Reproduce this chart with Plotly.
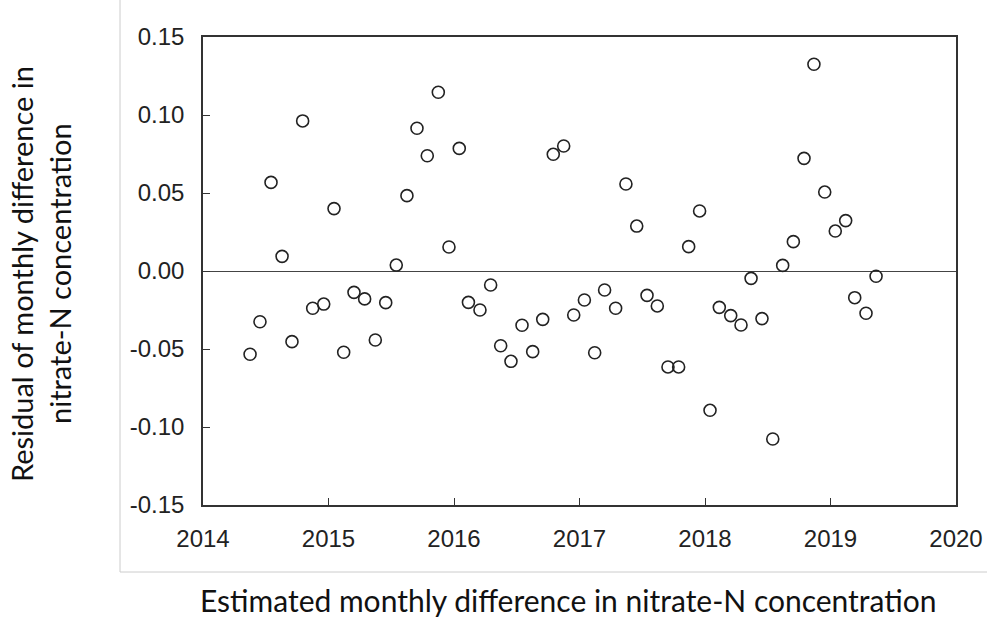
import plotly.graph_objects as go

# Estimated monthly difference (decimal year) and residuals
x_vals = [2014.375, 2014.454, 2014.542, 2014.630, 2014.709, 2014.794, 2014.874, 2014.962,
          2015.044, 2015.121, 2015.203, 2015.288, 2015.373, 2015.456, 2015.540, 2015.625,
          2015.705, 2015.787, 2015.875, 2015.960, 2016.042, 2016.115, 2016.207, 2016.292,
          2016.372, 2016.454, 2016.542, 2016.627, 2016.707, 2016.791, 2016.874, 2016.954,
          2017.039, 2017.121, 2017.200, 2017.288, 2017.370, 2017.456, 2017.538, 2017.620,
          2017.705, 2017.790, 2017.870, 2017.957, 2018.040, 2018.114, 2018.205, 2018.287,
          2018.367, 2018.454, 2018.540, 2018.619, 2018.704, 2018.789, 2018.868, 2018.954,
          2019.038, 2019.121, 2019.193, 2019.283, 2019.363]
residuals = [-0.0534, -0.0325, 0.0568, 0.0094, -0.0453, 0.0962, -0.0239, -0.0212,
             0.0400, -0.0521, -0.0137, -0.0179, -0.0442, -0.0203, 0.0038, 0.0483,
             0.0915, 0.0739, 0.1146, 0.0154, 0.0786, -0.0201, -0.0250, -0.0090,
             -0.0479, -0.0579, -0.0348, -0.0517, -0.0310, 0.0748, 0.0801, -0.0282,
             -0.0186, -0.0524, -0.0122, -0.0239, 0.0558, 0.0288, -0.0156, -0.0224,
             -0.0615, -0.0615, 0.0156, 0.0385, -0.0893, -0.0233, -0.0286, -0.0346,
             -0.0047, -0.0305, -0.1077, 0.0036, 0.0188, 0.0722, 0.1325, 0.0506,
             0.0256, 0.0323, -0.0171, -0.0271, -0.0034]

x_ticks = [2014, 2015, 2016, 2017, 2018, 2019, 2020]
y_ticks = [-0.15, -0.10, -0.05, 0.00, 0.05, 0.10, 0.15]
y_tick_labels = ["-0.15", "-0.10", "-0.05", "0.00", "0.05", "0.10", "0.15"]

x_title = "Estimated monthly difference in nitrate-N concentration"
y_title_lines = ["Residual of monthly difference in", "nitrate-N concentration"]

fig = go.Figure()
fig.add_trace(go.Scatter(
    x=x_vals, y=residuals, mode="markers",
    marker=dict(symbol="circle-open", size=12, color="#222222", line=dict(width=1.6)),
    showlegend=False, hoverinfo="x+y",
))

W, H = 987, 620
ml, mr, mt, mb = 203, 31, 37, 115
pw, ph = W - ml - mr, H - mt - mb

def px2paper_x(px):
    return (px - ml) / pw

def py2paper_y(py):
    return (H - mb - py) / ph

axis_common = dict(
    showgrid=False, showline=True, linecolor="#333333", linewidth=1.6, mirror=True,
    ticks="inside", ticklen=7, tickwidth=1.4, tickcolor="#333333", automargin=False,
    tickfont=dict(family="Liberation Sans, Arial, sans-serif", size=24, color="#222222"),
)

fig.update_xaxes(range=[2014, 2020], tickvals=x_ticks, ticktext=[str(t) for t in x_ticks],
                 zeroline=False, ticklabelstandoff=11, **axis_common)
fig.update_yaxes(range=[-0.15, 0.15], tickvals=y_ticks, ticktext=y_tick_labels,
                 zeroline=True, zerolinecolor="#444444", zerolinewidth=1.4,
                 ticklabelstandoff=12, **axis_common)

title_font = dict(family="Lato, Open Sans, sans-serif", size=30, color="#111111")
ytitle_font = dict(family="Lato, Open Sans, sans-serif", size=29, color="#111111")
annotations = [
    dict(text=x_title, xref="paper", yref="paper", x=px2paper_x(568), y=py2paper_y(600),
         xanchor="center", yanchor="middle", showarrow=False, font=title_font),
    dict(text=y_title_lines[0], xref="paper", yref="paper", x=px2paper_x(21), y=py2paper_y(274),
         xanchor="center", yanchor="middle", showarrow=False, textangle=-90, font=ytitle_font),
    dict(text=y_title_lines[1], xref="paper", yref="paper", x=px2paper_x(59), y=py2paper_y(274),
         xanchor="center", yanchor="middle", showarrow=False, textangle=-90, font=ytitle_font),
]

shapes = [
    dict(type="line", xref="paper", yref="paper", x0=px2paper_x(120), x1=px2paper_x(120),
         y0=py2paper_y(0), y1=py2paper_y(572), line=dict(color="#cccccc", width=1)),
    dict(type="line", xref="paper", yref="paper", x0=px2paper_x(120), x1=px2paper_x(987),
         y0=py2paper_y(572), y1=py2paper_y(572), line=dict(color="#cccccc", width=1)),
]

fig.update_layout(
    width=W, height=H, margin=dict(l=ml, r=mr, t=mt, b=mb, autoexpand=False),
    paper_bgcolor="white", plot_bgcolor="white",
    annotations=annotations, shapes=shapes,
)

fig.write_html("out.html")
